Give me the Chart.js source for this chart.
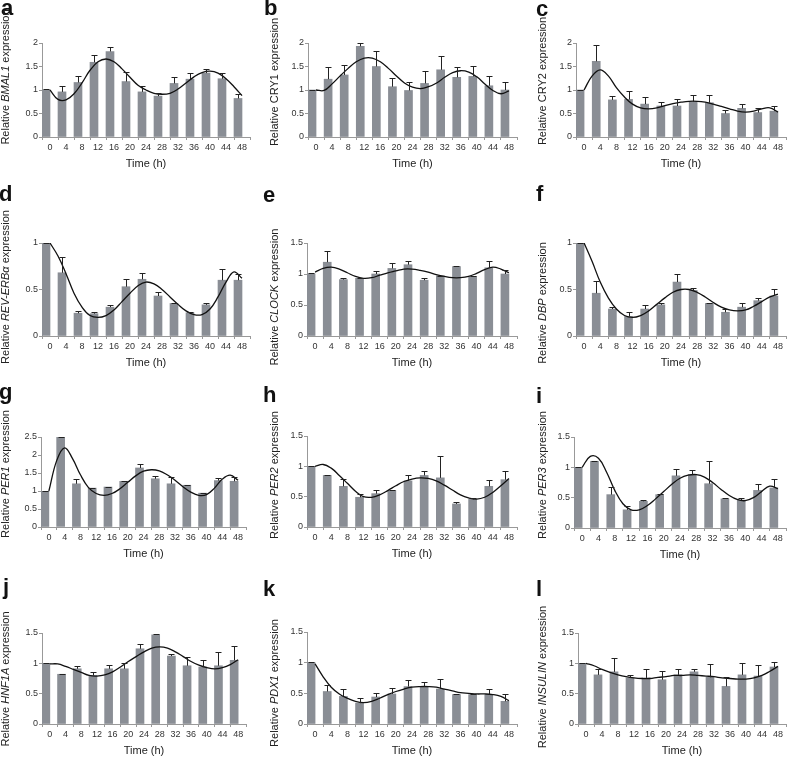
<!DOCTYPE html>
<html>
<head>
<meta charset="utf-8">
<script src="https://cdn.jsdelivr.net/npm/chart.js@4.4.1/dist/chart.umd.min.js"></script>
<style>
  body { margin: 0; background: #fff; font-family: "Liberation Sans", Arial, sans-serif; }
  #fig { position: relative; width: 787px; height: 760px; overflow: hidden; }
  canvas { position: absolute; }
  .letter { position: absolute; font-weight: bold; font-size: 22px; line-height: 22px; color: #111; }
  .ytitle { position: absolute; font-size: 11px; white-space: nowrap; color: #222;
            transform: translate(-50%, -50%) rotate(-90deg); }
</style>
</head>
<body>
<div id="fig"></div>
<script>
// time points (h) and fitted-curve sample points
const hours = ["0","4","8","12","16","20","24","28","32","36","40","44","48"];
const fitHours = [0,2,4,6,8,10,12,14,16,18,20,22,24,26,28,30,32,34,36,38,40,42,44,46,48];

// a BMAL1
const bmal1Values = [1.0,0.96,1.16,1.59,1.82,1.18,0.96,0.87,1.14,1.23,1.36,1.24,0.82];
const bmal1Sd = [0.02,0.13,0.13,0.16,0.09,0.21,0.13,0.07,0.13,0.14,0.08,0.13,0.09];
const bmal1Fit = [1.0,0.8,0.79,0.92,1.15,1.42,1.6,1.66,1.6,1.45,1.27,1.1,1.0,0.93,0.91,0.93,1.02,1.15,1.28,1.37,1.4,1.36,1.24,1.07,0.88];
// b CRY1
const cry1Values = [1.0,1.23,1.32,1.93,1.5,1.07,0.99,1.14,1.43,1.27,1.29,1.09,1.0];
const cry1Sd = [0.01,0.27,0.22,0.07,0.32,0.18,0.17,0.27,0.3,0.23,0.22,0.21,0.16];
const cry1Fit = [1.0,0.99,1.13,1.3,1.46,1.6,1.68,1.68,1.6,1.46,1.3,1.15,1.06,1.03,1.07,1.15,1.27,1.37,1.41,1.38,1.28,1.13,0.99,0.92,0.98];
// c CRY2
const cry2Values = [1.0,1.61,0.79,0.8,0.7,0.66,0.66,0.75,0.73,0.5,0.61,0.52,0.55];
const cry2Sd = [0.01,0.34,0.09,0.18,0.16,0.09,0.14,0.14,0.16,0.07,0.1,0.09,0.11];
const cry2Fit = [1.0,1.3,1.43,1.3,1.05,0.85,0.7,0.62,0.6,0.62,0.67,0.71,0.74,0.76,0.76,0.74,0.7,0.65,0.6,0.55,0.53,0.55,0.6,0.62,0.53];
// d REV-ERBa
const reverbValues = [1.0,0.68,0.245,0.24,0.31,0.53,0.61,0.43,0.35,0.25,0.335,0.6,0.6];
const reverbSd = [0.005,0.17,0.025,0.015,0.025,0.08,0.07,0.04,0.01,0.01,0.025,0.12,0.07];
const reverbFit = [1.0,0.86,0.67,0.46,0.31,0.22,0.2,0.22,0.28,0.37,0.46,0.54,0.58,0.56,0.5,0.42,0.34,0.27,0.23,0.23,0.29,0.42,0.58,0.69,0.62];
// e CLOCK
const clockValues = [1.0,1.19,0.91,0.93,1.0,1.09,1.15,0.9,0.97,1.12,0.96,1.1,1.0];
const clockSd = [0.01,0.18,0.02,0.005,0.05,0.09,0.06,0.03,0.005,0.005,0.01,0.11,0.07];
const clockFit = [1.03,1.09,1.11,1.08,1.02,0.96,0.93,0.94,0.98,1.02,1.05,1.08,1.08,1.06,1.03,0.99,0.96,0.94,0.94,0.96,1.01,1.07,1.11,1.08,1.02];
// f DBP
const dbpValues = [1.0,0.46,0.29,0.21,0.29,0.335,0.58,0.49,0.35,0.255,0.31,0.38,0.43];
const dbpSd = [0.005,0.13,0.02,0.045,0.04,0.015,0.09,0.03,0.01,0.035,0.04,0.025,0.08];
const dbpFit = [1.0,0.8,0.58,0.41,0.29,0.22,0.2,0.22,0.27,0.34,0.41,0.47,0.5,0.5,0.47,0.42,0.36,0.31,0.28,0.27,0.28,0.32,0.37,0.42,0.45];
// g PER1
const per1Values = [0.99,2.49,1.2,1.08,1.11,1.27,1.64,1.34,1.2,1.16,0.94,1.29,1.27];
const per1Sd = [0.01,0.01,0.13,0.01,0.01,0.01,0.12,0.07,0.19,0.01,0.01,0.07,0.12];
const per1Fit = [1.0,1.85,2.2,1.9,1.45,1.1,0.93,0.88,0.93,1.06,1.24,1.42,1.55,1.59,1.56,1.45,1.3,1.12,0.97,0.88,0.9,1.08,1.33,1.44,1.3];
// h PER2
const per2Values = [1.0,0.85,0.67,0.49,0.55,0.6,0.76,0.85,0.81,0.38,0.455,0.67,0.78];
const per2Sd = [0.01,0.01,0.12,0.05,0.06,0.005,0.09,0.07,0.36,0.03,0.015,0.11,0.15];
const per2Fit = [1.0,1.03,0.97,0.85,0.72,0.59,0.5,0.49,0.53,0.6,0.68,0.75,0.79,0.81,0.8,0.76,0.69,0.61,0.53,0.48,0.46,0.49,0.57,0.68,0.8];
// i PER3
const per3Values = [1.0,1.1,0.55,0.3,0.44,0.55,0.86,0.88,0.73,0.48,0.46,0.62,0.66];
const per3Sd = [0.005,0.005,0.13,0.06,0.02,0.01,0.11,0.07,0.37,0.02,0.03,0.1,0.15];
const per3Fit = [1.0,1.18,1.15,0.92,0.62,0.4,0.3,0.3,0.37,0.48,0.6,0.72,0.82,0.87,0.88,0.84,0.75,0.64,0.54,0.47,0.45,0.5,0.6,0.69,0.65];
// j HNF1A
const hnf1aValues = [1.0,0.82,0.91,0.8,0.91,0.91,1.24,1.47,1.12,0.96,0.94,0.96,1.05];
const hnf1aSd = [0.005,0.005,0.05,0.05,0.07,0.09,0.08,0.02,0.03,0.14,0.12,0.23,0.24];
const hnf1aFit = [0.99,0.99,0.95,0.9,0.85,0.8,0.79,0.81,0.86,0.94,1.03,1.11,1.19,1.25,1.27,1.25,1.19,1.11,1.03,0.97,0.93,0.91,0.93,0.98,1.06];
// k PDX1
const pdx1Values = [1.0,0.53,0.45,0.34,0.44,0.49,0.61,0.61,0.57,0.48,0.48,0.48,0.37];
const pdx1Sd = [0.005,0.11,0.12,0.08,0.06,0.09,0.11,0.08,0.16,0.003,0.003,0.09,0.12];
const pdx1Fit = [0.98,0.77,0.6,0.49,0.42,0.37,0.35,0.37,0.42,0.48,0.53,0.57,0.6,0.61,0.61,0.6,0.57,0.54,0.51,0.5,0.49,0.49,0.48,0.45,0.38];
// l INSULIN
const insulinValues = [1.0,0.81,0.86,0.76,0.76,0.73,0.81,0.86,0.77,0.62,0.81,0.79,0.94];
const insulinSd = [0.005,0.09,0.23,0.04,0.14,0.14,0.09,0.05,0.22,0.15,0.19,0.18,0.09];
const insulinFit = [1.0,0.96,0.9,0.85,0.81,0.78,0.76,0.75,0.75,0.77,0.78,0.8,0.8,0.81,0.8,0.79,0.78,0.76,0.75,0.74,0.74,0.76,0.8,0.87,0.95];

const yMaxes = [2, 2, 2, 1, 1.5, 1, 2.5, 1.5, 1.5, 1.5, 1.5, 1.5];

// panel layout: letter, y title html, data, plot box in page pixels
const panels = [
  {letter:"a", title:"Relative <i>BMAL1</i> expression", v:bmal1Values, sd:bmal1Sd, fit:bmal1Fit, box:[42,43,250,137], tx:[5,77], lx:[1,-2.6]},
  {letter:"b", title:"Relative CRY1 expression", v:cry1Values, sd:cry1Sd, fit:cry1Fit, box:[308,43,517,137], tx:[274,82], lx:[264,-2.6]},
  {letter:"c", title:"Relative CRY2 expression", v:cry2Values, sd:cry2Sd, fit:cry2Fit, box:[576,43,786,137], tx:[542,81], lx:[536,-1.6]},
  {letter:"d", title:"Relative <i>REV-ERB\u03b1</i> expression", v:reverbValues, sd:reverbSd, fit:reverbFit, box:[42,243,250,336], tx:[5,287], lx:[-1,183.4]},
  {letter:"e", title:"Relative <i>CLOCK</i> expression", v:clockValues, sd:clockSd, fit:clockFit, box:[307,243,517,336], tx:[274,297], lx:[263,184.4]},
  {letter:"f", title:"Relative <i>DBP</i> expression", v:dbpValues, sd:dbpSd, fit:dbpFit, box:[576,243,786,336], tx:[542,303], lx:[536,183.4]},
  {letter:"g", title:"Relative <i>PER1</i> expression", v:per1Values, sd:per1Sd, fit:per1Fit, box:[41,437,246,527], tx:[5,474], lx:[-1,381.4]},
  {letter:"h", title:"Relative <i>PER2</i> expression", v:per2Values, sd:per2Sd, fit:per2Fit, box:[307,436,517,527], tx:[274,475], lx:[263,384.4]},
  {letter:"i", title:"Relative <i>PER3</i> expression", v:per3Values, sd:per3Sd, fit:per3Fit, box:[574,437,786,528], tx:[542,475], lx:[536,385.4]},
  {letter:"j", title:"Relative <i>HNF1A</i> expression", v:hnf1aValues, sd:hnf1aSd, fit:hnf1aFit, box:[42,633,246,724], tx:[5,679], lx:[3,576.4]},
  {letter:"k", title:"Relative <i>PDX1</i> expression", v:pdx1Values, sd:pdx1Sd, fit:pdx1Fit, box:[307,632,517,724], tx:[274,683], lx:[263,578.4]},
  {letter:"l", title:"Relative <i>INSULIN</i> expression", v:insulinValues, sd:insulinSd, fit:insulinFit, box:[578,633,786,724], tx:[542,677], lx:[536,578.4]}
];

const colX = [0, 262, 524], colW = [262, 262, 263];
const rowY = [0, 190, 380, 570], rowH = 190;

// upper error bars with a small cap
const errorBars = {
  id: "errorBars",
  afterDatasetsDraw(chart) {
    const ds = chart.data.datasets[0];
    const meta = chart.getDatasetMeta(0);
    const y = chart.scales.y;
    const ctx = chart.ctx;
    ctx.save();
    ctx.strokeStyle = "#222";
    ctx.lineWidth = 1;
    meta.data.forEach((bar, i) => {
      const top = Math.round(y.getPixelForValue(ds.data[i] + ds.errors[i])) + 0.5;
      const x = Math.round(bar.x) + 0.5;
      ctx.beginPath();
      ctx.moveTo(x, bar.y);
      ctx.lineTo(x, top);
      ctx.moveTo(x - 3, top);
      ctx.lineTo(x + 3, top);
      ctx.stroke();
    });
    ctx.restore();
  }
};

const fig = document.getElementById("fig");

panels.forEach((p, idx) => {
  const px = colX[idx % 3], py = rowY[Math.floor(idx / 3)];
  const W = colW[idx % 3], H = rowH;
  const [left, top, right, bottom] = p.box;
  const yw = left - px;
  const xh = py + H - bottom;
  const titleCenter = 27 + bottom;

  const canvas = document.createElement("canvas");
  canvas.width = W; canvas.height = H;
  canvas.style.left = px + "px"; canvas.style.top = py + "px";
  fig.appendChild(canvas);

  const letter = document.createElement("div");
  letter.className = "letter";
  letter.textContent = p.letter;
  letter.style.left = p.lx[0] + "px"; letter.style.top = p.lx[1] + "px";
  fig.appendChild(letter);

  const yt = document.createElement("div");
  yt.className = "ytitle";
  yt.innerHTML = p.title;
  yt.style.left = p.tx[0] + "px"; yt.style.top = p.tx[1] + "px";
  fig.appendChild(yt);

  new Chart(canvas, {
    data: {
      labels: hours,
      datasets: [
        {
          type: "bar", data: p.v, errors: p.sd, xAxisID: "x", yAxisID: "y",
          backgroundColor: "#8a8e95", barThickness: 8, order: 2
        },
        {
          type: "line", xAxisID: "xl", yAxisID: "y",
          data: fitHours.map((h, i) => ({x: h, y: p.fit[i]})),
          borderColor: "#111", borderWidth: 1.3, pointRadius: 0, tension: 0.4, fill: false, order: 1
        }
      ]
    },
    options: {
      responsive: false, animation: false, devicePixelRatio: 1,
      layout: { padding: { top: top - py, right: px + W - right, left: 0, bottom: 0 } },
      plugins: { legend: { display: false }, tooltip: { enabled: false } },
      scales: {
        x: {
          type: "category", offset: true,
          grid: { offset: true, drawOnChartArea: false, tickLength: 3, color: "#999" },
          border: { color: "#999" },
          ticks: { font: { size: 9, family: "Liberation Sans" }, color: "#333", padding: 2, maxRotation: 0, autoSkip: false },
          title: { display: true, text: "Time (h)", color: "#222",
                   font: { size: 11, family: "Liberation Sans" },
                   padding: { top: 0, bottom: (py + H) - titleCenter - 6.6 } },
          afterFit: s => { s.height = xh; }
        },
        xl: { type: "linear", display: false, min: -2, max: 50 },
        y: {
          min: 0, max: yMaxes[idx],
          grid: { drawOnChartArea: false, tickLength: 3, color: "#999" },
          border: { color: "#999" },
          ticks: { stepSize: 0.5, font: { size: 9, family: "Liberation Sans" }, color: "#333", padding: 1,
                   callback: v => String(v) },
          afterFit: s => { s.width = yw; }
        }
      }
    },
    plugins: [errorBars]
  });
});
</script>
</body>
</html>
